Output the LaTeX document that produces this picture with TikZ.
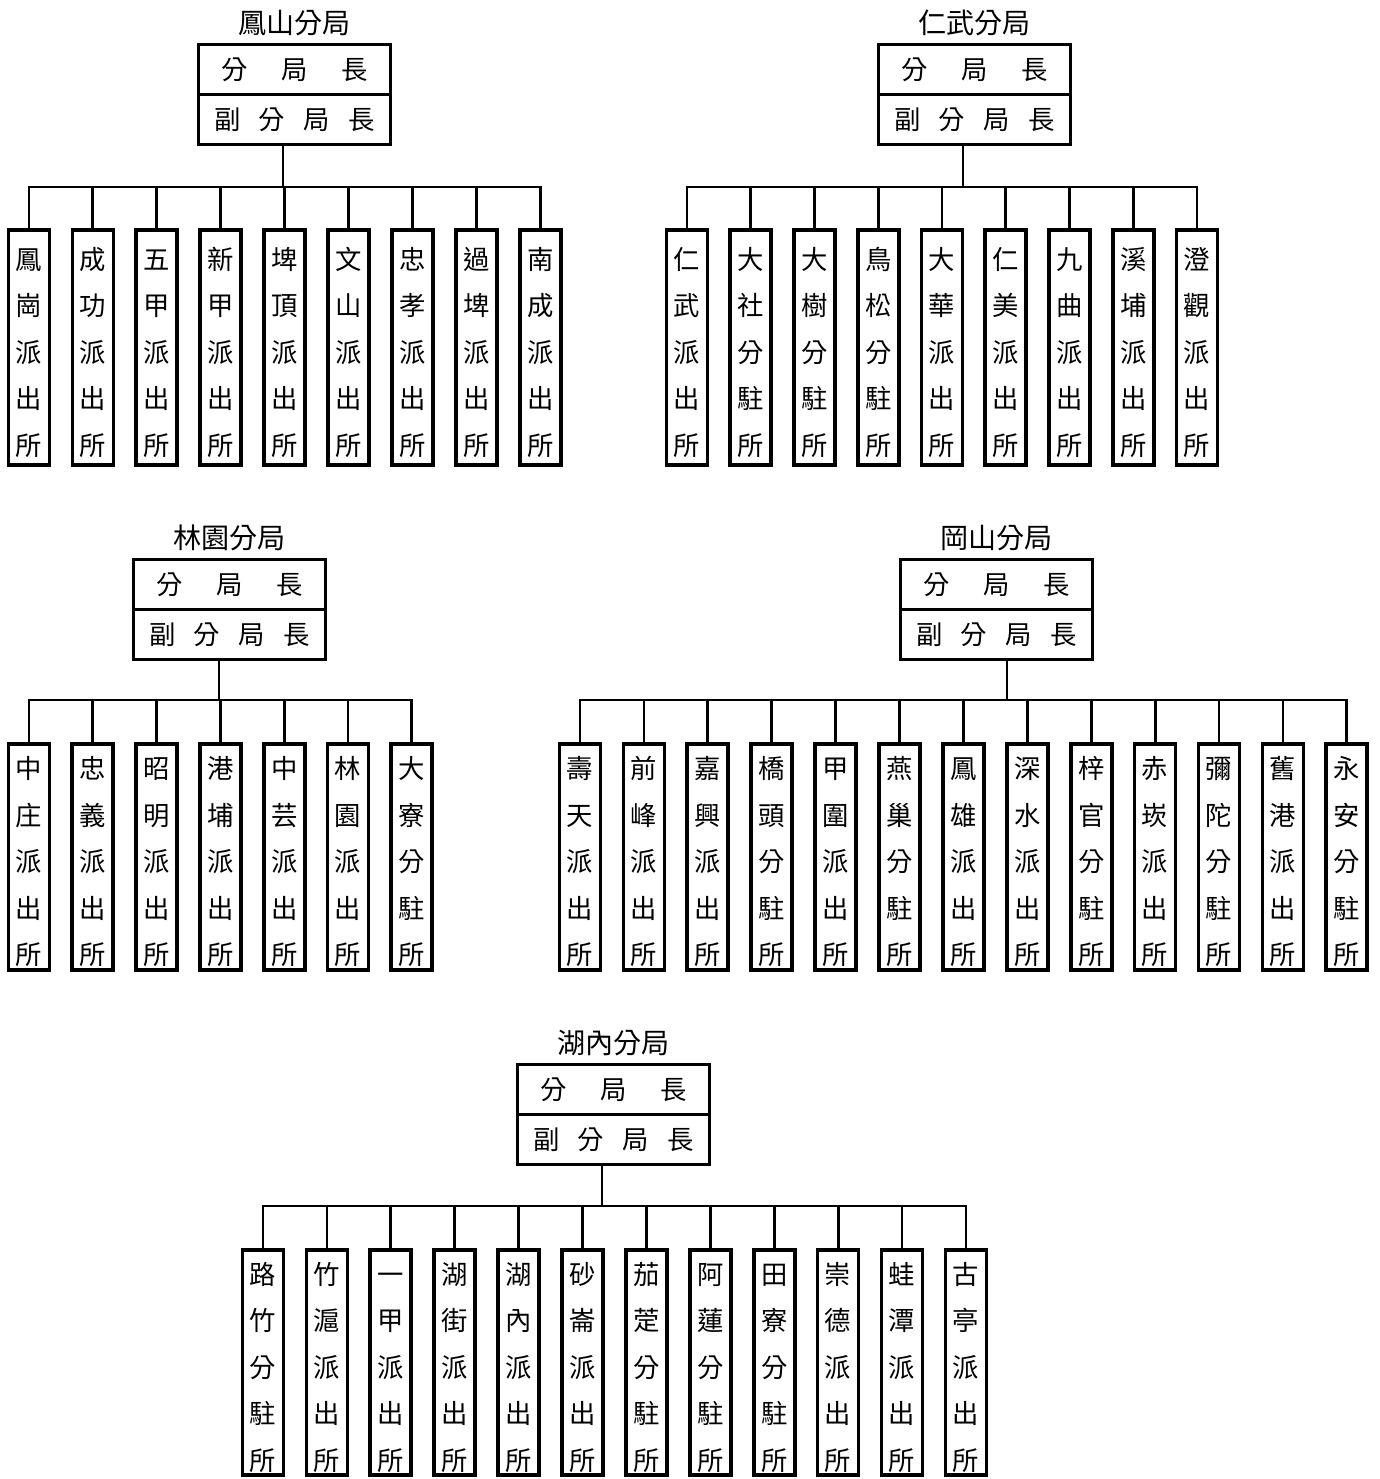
\documentclass[tikz,border=0pt]{standalone}
\usepackage{fontspec}
\setmainfont{Noto Sans CJK TC}
\XeTeXlinebreaklocale "zh"
\usetikzlibrary{positioning}

\begin{document}
\begin{tikzpicture}[x=0.02cm,y=-0.02cm,
  chief/.style={draw,line width=1.5pt,minimum width=3.83cm,minimum height=1cm,inner sep=0pt,outer sep=0pt,font=\fontsize{15}{15}\selectfont},
  bureau/.style={inner sep=0pt,font=\fontsize{16}{16}\selectfont},
  unit/.style={draw,line width=2.1pt,minimum width=0.82cm,inner sep=0pt,text width=20pt,align=center,font=\fontsize{15}{26.5}\selectfont,execute at begin node={\rule{0pt}{18pt}}},
  link/.style={line width=1.6pt}]
\useasboundingbox (0,0) rectangle (1379,1479);

\node[chief] (fsA) at (294.5,69.5) {分\hspace{6.7mm}局\hspace{6.7mm}長};
\node[chief,below=0pt of fsA] (fsB) {副\hspace{3.7mm}分\hspace{3.7mm}局\hspace{3.7mm}長};
\node[bureau,above=0.17cm of fsA] (fs) {鳳山分局};
\coordinate (fsbus) at (283,187);
\foreach \n [count=\i from 0] in {鳳崗派出所,成功派出所,五甲派出所,新甲派出所,埤頂派出所,文山派出所,忠孝派出所,過埤派出所,南成派出所}{
  \node[unit,minimum height=4.7cm] (fs\i) at ({29+63.9*\i},347.5) {\n};
  \draw[link] (fs\i.north) |- (fsbus);
}
\draw[link] (fsB.south -| fsbus) -- (fsbus);

\node[chief] (rwA) at (974.5,69.5) {分\hspace{6.7mm}局\hspace{6.7mm}長};
\node[chief,below=0pt of rwA] (rwB) {副\hspace{3.7mm}分\hspace{3.7mm}局\hspace{3.7mm}長};
\node[bureau,above=0.17cm of rwA] (rw) {仁武分局};
\coordinate (rwbus) at (963,187);
\foreach \n [count=\i from 0] in {仁武派出所,大社分駐所,大樹分駐所,鳥松分駐所,大華派出所,仁美派出所,九曲派出所,溪埔派出所,澄觀派出所}{
  \node[unit,minimum height=4.7cm] (rw\i) at ({687+63.75*\i},347.5) {\n};
  \draw[link] (rw\i.north) |- (rwbus);
}
\draw[link] (rwB.south -| rwbus) -- (rwbus);

\node[chief] (lyA) at (229.5,584.5) {分\hspace{6.7mm}局\hspace{6.7mm}長};
\node[chief,below=0pt of lyA] (lyB) {副\hspace{3.7mm}分\hspace{3.7mm}局\hspace{3.7mm}長};
\node[bureau,above=0.17cm of lyA] (ly) {林園分局};
\coordinate (lybus) at (219,700);
\foreach \n [count=\i from 0] in {中庄派出所,忠義派出所,昭明派出所,港埔派出所,中芸派出所,林園派出所,大寮分駐所}{
  \node[unit,minimum height=4.52cm] (ly\i) at ({29+63.8*\i},857) {\n};
  \draw[link] (ly\i.north) |- (lybus);
}
\draw[link] (lyB.south -| lybus) -- (lybus);

\node[chief] (gsA) at (996.5,584.5) {分\hspace{6.7mm}局\hspace{6.7mm}長};
\node[chief,below=0pt of gsA] (gsB) {副\hspace{3.7mm}分\hspace{3.7mm}局\hspace{3.7mm}長};
\node[bureau,above=0.17cm of gsA] (gs) {岡山分局};
\coordinate (gsbus) at (1007,700);
\foreach \n [count=\i from 0] in {壽天派出所,前峰派出所,嘉興派出所,橋頭分駐所,甲圍派出所,燕巢分駐所,鳳雄派出所,深水派出所,梓官分駐所,赤崁派出所,彌陀分駐所,舊港派出所,永安分駐所}{
  \node[unit,minimum height=4.52cm] (gs\i) at ({580+63.9*\i},857) {\n};
  \draw[link] (gs\i.north) |- (gsbus);
}
\draw[link] (gsB.south -| gsbus) -- (gsbus);

\node[chief] (hnA) at (613.5,1089.5) {分\hspace{6.7mm}局\hspace{6.7mm}長};
\node[chief,below=0pt of hnA] (hnB) {副\hspace{3.7mm}分\hspace{3.7mm}局\hspace{3.7mm}長};
\node[bureau,above=0.17cm of hnA] (hn) {湖內分局};
\coordinate (hnbus) at (602,1206);
\foreach \n [count=\i from 0] in {路竹分駐所,竹滬派出所,一甲派出所,湖街派出所,湖內派出所,砂崙派出所,茄萣分駐所,阿蓮分駐所,田寮分駐所,崇德派出所,蛙潭派出所,古亭派出所}{
  \node[unit,minimum height=4.5cm] (hn\i) at ({263+63.9*\i},1362.5) {\n};
  \draw[link] (hn\i.north) |- (hnbus);
}
\draw[link] (hnB.south -| hnbus) -- (hnbus);
\end{tikzpicture}
\end{document}
